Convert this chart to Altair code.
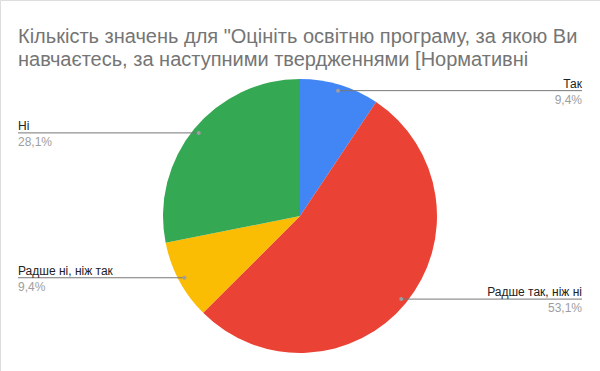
import math
import altair as alt
import pandas as pd

# ---- data ----
categories = ["Так", "Радше так, ніж ні", "Радше ні, ніж так", "Ні"]
counts = [3, 17, 3, 9]
colors = ["#4285F4", "#EA4335", "#FBBC04", "#34A853"]
title_lines = [
    "Кількість значень для \"Оцініть освітню програму, за якою Ви",
    "навчаєтесь, за наступними твердженнями [Нормативні",
]

# ---- layout ----
W, H = 600, 371
CX, CY, R = 300, 216, 137
DOT_R = 131
LEFT_X, RIGHT_X = 18, 582
FONT = "Liberation Sans"

total = sum(counts)
rows = []
cum = 0
for i, (c, v) in enumerate(zip(categories, counts)):
    mid = (cum + v / 2) / total * 2 * math.pi
    cum += v
    dx = CX + DOT_R * math.sin(mid)
    dy = CY - DOT_R * math.cos(mid)
    right = math.sin(mid) > 0
    pct = f"{round(v / total * 100, 1):.1f}".replace(".", ",") + "%"
    rows.append(dict(idx=i, category=c, count=v, pct=pct, dx=dx, dy=dy,
                     side="right" if right else "left",
                     lx=RIGHT_X if right else LEFT_X,
                     name_y=dy - 3, pct_y=dy + 13))
df = pd.DataFrame(rows)

title_df = pd.DataFrame({"text": title_lines, "line": list(range(len(title_lines)))})
title_df["x"] = LEFT_X
title_df["y"] = 43 + title_df["line"] * 23

base = alt.Chart(df)

arc = base.mark_arc(radius=R).encode(
    theta=alt.Theta("count:Q", stack=True),
    order=alt.Order("idx:Q"),
    color=alt.Color("category:N", scale=alt.Scale(domain=categories, range=colors), legend=None),
    x=alt.value(CX),
    y=alt.value(CY),
)

rule = base.mark_rule(color="#777777", strokeWidth=1).encode(
    x=alt.X("dx:Q", scale=None),
    x2="lx:Q",
    y=alt.Y("dy:Q", scale=None),
)

dots = base.mark_circle(color="#9e9e9e", opacity=1, size=16).encode(
    x=alt.X("dx:Q", scale=None),
    y=alt.Y("dy:Q", scale=None),
)

def side_texts(side, align):
    sub = base.transform_filter(alt.datum.side == side)
    name = sub.mark_text(align=align, baseline="alphabetic", fontSize=12, font=FONT, color="#222222").encode(
        x=alt.X("lx:Q", scale=None), y=alt.Y("name_y:Q", scale=None), text="category:N")
    pct = sub.mark_text(align=align, baseline="alphabetic", fontSize=12, font=FONT, color="#9e9e9e").encode(
        x=alt.X("lx:Q", scale=None), y=alt.Y("pct_y:Q", scale=None), text="pct:N")
    return name + pct

title = alt.Chart(title_df).mark_text(align="left", baseline="alphabetic", fontSize=20, font=FONT,
                                       color="#757575").encode(
    x=alt.X("x:Q", scale=None), y=alt.Y("y:Q", scale=None), text="text:N")

chart = alt.layer(arc, rule, dots, side_texts("right", "right"), side_texts("left", "left"), title).properties(
    width=W, height=H, autosize="none", padding=0
).configure_view(stroke=None).configure(background="white")

chart.save("out.html", embed_options={"renderer": "svg", "actions": False})
